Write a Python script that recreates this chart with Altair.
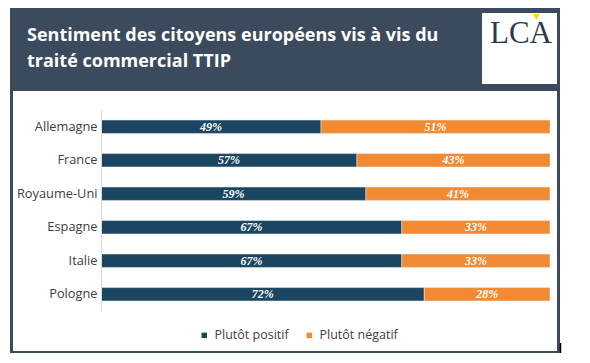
import altair as alt
import pandas as pd

countries = ["Allemagne", "France", "Royaume-Uni", "Espagne", "Italie", "Pologne"]
positif = [49, 57, 59, 67, 67, 72]
negatif = [51, 43, 41, 33, 33, 28]
series = ["Plutôt positif", "Plutôt négatif"]
colors = ["#1b4561", "#f28a33"]
title_lines = ["Sentiment des citoyens européens vis à vis du", "traité commercial TTIP"]
logo_text = "LCA"

rows = []
for c, p, n in zip(countries, positif, negatif):
    rows.append({"country": c, "series": series[0], "value": p, "order": 0})
    rows.append({"country": c, "series": series[1], "value": n, "order": 1})
df = pd.DataFrame(rows)

FONT = "Open Sans"
FRAME = "#3c4a5d"
one = alt.Data(values=[{"k": 1}])

def rect(x1, x2, y1, y2, color):
    return alt.Chart(one).mark_rect(color=color).encode(
        x=alt.value(x1), x2=alt.value(x2), y=alt.value(y1), y2=alt.value(y2))

frame = rect(-91, 459, -102, 243, FRAME)
inner = rect(-88, 456, -19, 241, "white")
logo_box = rect(381, 456, -97, -26, "white")
logo = alt.Chart(one).mark_text(
    text=logo_text, font="Liberation Serif", fontSize=31, color="#2d3a4e",
    align="center", baseline="alphabetic").encode(x=alt.value(420), y=alt.value(-67))
wedge = alt.Chart(one).mark_point(
    shape="triangle-down", filled=True, color="#ffd800", size=45, opacity=1
).encode(x=alt.value(435.5), y=alt.value(-93))
t1 = alt.Chart(one).mark_text(
    text=title_lines[0], font=FONT, fontSize=18, fontWeight="bold", color="white",
    align="left", baseline="alphabetic").encode(x=alt.value(-74), y=alt.value(-69))
t2 = alt.Chart(one).mark_text(
    text=title_lines[1], font=FONT, fontSize=18, fontWeight="bold", color="white",
    align="left", baseline="alphabetic").encode(x=alt.value(-74), y=alt.value(-43))
black_line = alt.Chart(one).mark_rule(color="black", strokeWidth=1.5).encode(
    x=alt.value(459.5), y=alt.value(233), y2=alt.value(243))

base = alt.Chart(df).transform_stack(
    stack="value", groupby=["country"], as_=["v0", "v1"],
    sort=[alt.SortField("order", order="ascending")]
).transform_calculate(mid="(datum.v0 + datum.v1) / 2", lbl="datum.value + '%'")

yenc = alt.Y("country:N", sort=countries, title=None,
             scale=alt.Scale(paddingInner=0.6, paddingOuter=0.3),
             axis=alt.Axis(ticks=False, domainColor="#d9d9d9", domainWidth=1,
                           labelFont=FONT, labelFontSize=12.8, labelColor="#404040",
                           labelPadding=4, zindex=1))

bars = base.mark_bar(stroke="#e8eef3", strokeWidth=0.5).encode(
    x=alt.X("v0:Q", scale=alt.Scale(domain=[0, 100]), axis=None),
    x2="v1:Q",
    y=yenc,
    color=alt.Color("series:N", sort=series,
                    scale=alt.Scale(domain=series, range=colors),
                    legend=alt.Legend(title=None, orient="none", legendX=97, legendY=219,
                                      direction="horizontal", symbolType="square",
                                      symbolSize=30, labelFont=FONT, labelFontSize=12.5,
                                      labelColor="#404040", columnPadding=14, padding=0,
                                      symbolStrokeWidth=0)),
)

labels = base.mark_text(
    font="Liberation Serif", fontStyle="italic", fontWeight="bold", fontSize=12,
    color="white", align="center", baseline="middle"
).encode(
    x=alt.X("mid:Q", scale=alt.Scale(domain=[0, 100]), axis=None),
    y=alt.Y("country:N", sort=countries),
    text="lbl:N",
)

chart = alt.layer(
    frame, inner, logo_box, logo, wedge, t1, t2, bars, labels, black_line
).properties(
    width=449, height=201,
    autosize=alt.AutoSizeParams(type="none"),
    padding={"left": 93, "top": 102, "right": 12, "bottom": 43},
    background="white",
).configure_view(stroke=None)

chart.save("out.html", embed_options={"renderer": "svg", "actions": False})
